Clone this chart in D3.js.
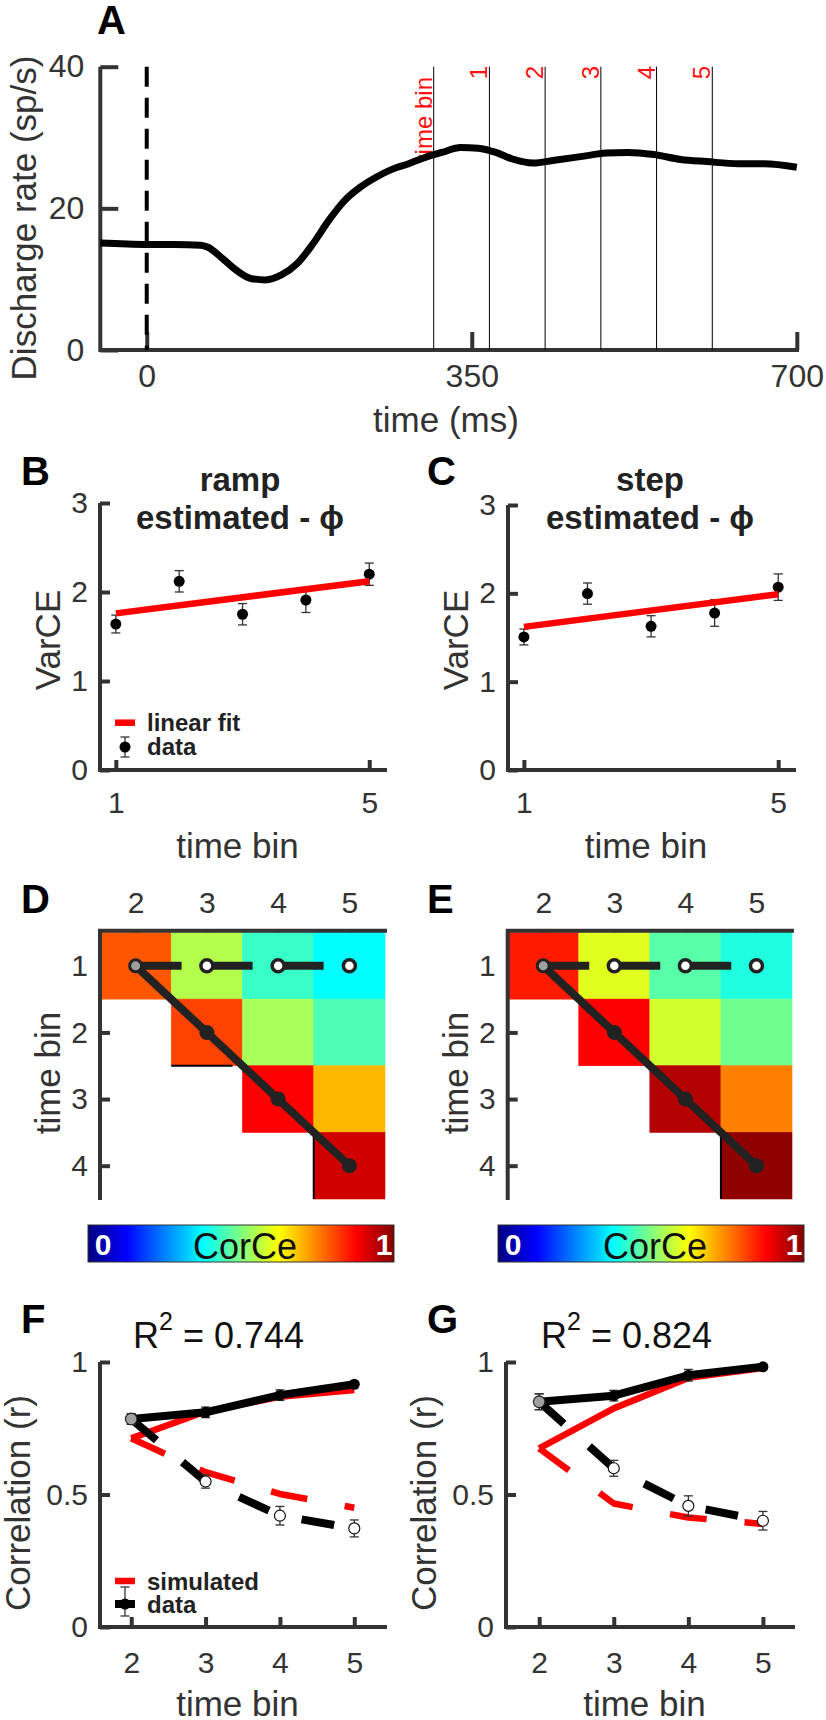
<!DOCTYPE html>
<html><head><meta charset="utf-8">
<script src="https://cdn.jsdelivr.net/npm/d3@7"></script>
<style>
body{margin:0;background:#fff;}
svg text{font-family:"Liberation Sans",Arial,Helvetica,sans-serif;}
</style></head><body>
<svg id="fig" width="826" height="1720" xmlns="http://www.w3.org/2000/svg"></svg>
<script>
// ---------- DATA ----------
// Panel A: discharge rate time course
const timeMs  = [-50, 0, 30, 58, 66, 80, 96, 112, 128, 145, 162, 179, 196, 213, 230, 247, 264, 282, 300, 318, 338, 357, 376, 393, 416, 439, 467, 495, 518, 546, 575, 603, 637, 665, 700];
const rateSpS = [15.1, 14.9, 14.9, 14.8, 14.5, 13.1, 11.3, 10.1, 9.9, 10.6, 12.2, 15.0, 18.3, 21.1, 23.0, 24.4, 25.5, 26.3, 27.2, 27.9, 28.6, 28.5, 27.9, 27.0, 26.4, 26.8, 27.3, 27.8, 27.9, 27.6, 26.9, 26.6, 26.3, 26.3, 25.8];
const binEdgesMs = [309, 369, 429, 489, 549, 609];
const binLabels = ["time bin", "1", "2", "3", "4", "5"];
const rateTicks = [0, 20, 40];
const timeTicks = [0, 350, 700];

// Panels B, C: VarCE
const varBins = [1, 2, 3, 4, 5];
const varTicks = [0, 1, 2, 3];
const varBinTicks = [1, 5];
const rampVar = [1.64, 2.12, 1.75, 1.91, 2.20];
const rampVarErr = [0.10, 0.12, 0.12, 0.14, 0.125];
const rampFit = [1.76, 2.12];
const stepVar = [1.506, 1.997, 1.627, 1.777, 2.07];
const stepVarErr = [0.09, 0.12, 0.12, 0.15, 0.15];
const stepFit = [1.62, 1.99];
const fitBins = [1, 5];

// Panels D, E: CorCe matrices (rows = time bin 1..4, cols = time bin 2..5)
const corRows = [1, 2, 3, 4];
const corCols = [2, 3, 4, 5];
const rampCorr = [[0.79, 0.55, 0.43, 0.375], [null, 0.81, 0.54, 0.45], [null, null, 0.875, 0.695], [null, null, null, 0.92]];
const stepCorr = [[0.85, 0.595, 0.46, 0.405], [null, 0.875, 0.58, 0.485], [null, null, 0.95, 0.75], [null, null, null, 0.985]];

// Panels F, G: correlation vs time bin
const corBins = [2, 3, 4, 5];
const corTicks = [0, 0.5, 1];
const rampDataDiag = [0.785, 0.81, 0.875, 0.916];
const rampDataDiagErr = [0.02, 0.02, 0.02, 0.01];
const rampDataRow = [0.785, 0.549, 0.420, 0.372];
const rampDataRowErr = [0.02, 0.025, 0.035, 0.032];
const rampSimDiag = [0.712, 0.813, 0.869, 0.894];
const rampSimRow = [0.712, 0.584, 0.502, 0.45];
const stepDataDiag = [0.85, 0.873, 0.95, 0.982];
const stepDataDiagErr = [0.03, 0.02, 0.022, 0.01];
const stepDataRow = [0.85, 0.599, 0.457, 0.401];
const stepDataRowErr = [0.03, 0.03, 0.038, 0.035];
const stepSimDiag = [0.674, 0.825, 0.94, 0.977];
const stepSimRow = [0.674, 0.466, 0.413, 0.389];
const r2Values = ["0.744", "0.824"];

// ---------- HELPERS ----------
const FONT = '"Liberation Sans", Arial, Helvetica, sans-serif';
const AXC = '#333';
const svg = d3.select('#fig');

function jet(v) {
  const c = x => Math.max(0, Math.min(1, x));
  const r = c(Math.min(4 * v - 1.5, -4 * v + 4.5));
  const g = c(Math.min(4 * v - 0.5, -4 * v + 3.5));
  const b = c(Math.min(4 * v + 0.5, -4 * v + 2.5));
  return d3.rgb(r * 255, g * 255, b * 255).formatHex();
}
function txt(x, y, s, o = {}) {
  return svg.append('text').attr('x', x).attr('y', y).text(s)
    .attr('font-size', o.size || 30).attr('font-weight', o.bold ? 'bold' : 'normal')
    .attr('fill', o.fill || AXC).attr('text-anchor', o.anchor || 'start');
}
function rtxt(x, y, s, o = {}) {
  return svg.append('text').attr('transform', `translate(${x},${y}) rotate(-90)`).text(s)
    .attr('font-size', o.size || 35).attr('fill', o.fill || AXC).attr('text-anchor', o.anchor || 'middle');
}
function frame(pts) {
  svg.append('path').attr('d', d3.line()(pts)).attr('fill', 'none')
    .attr('stroke', AXC).attr('stroke-width', 4).attr('stroke-linejoin', 'miter');
}
function axis(gen, vals, size, tickLen, pad, fmt) {
  const g = svg.append('g')
    .call(gen.tickValues(vals).tickSize(-tickLen).tickSizeOuter(0).tickPadding(pad).tickFormat(fmt || (d => d)));
  g.attr('font-family', FONT).attr('font-size', size);
  g.select('.domain').remove();
  g.selectAll('.tick line').attr('stroke', AXC).attr('stroke-width', 4);
  g.selectAll('.tick text').attr('fill', AXC);
  return g;
}
function errbars(x, y, xs, vals, errs, cap) {
  xs.forEach((b, i) => {
    const X = x(b), y0 = y(vals[i] - errs[i]), y1 = y(vals[i] + errs[i]);
    svg.append('line').attr('x1', X).attr('x2', X).attr('y1', y0).attr('y2', y1).attr('stroke', AXC).attr('stroke-width', 1.3);
    [y0, y1].forEach(yy => svg.append('line').attr('x1', X - cap).attr('x2', X + cap).attr('y1', yy).attr('y2', yy).attr('stroke', AXC).attr('stroke-width', 1.3));
  });
}

// ---------- PANEL A ----------
const xA = d3.scaleLinear().domain([-50, 700]).range([100.3, 796.8]);
const yA = d3.scaleLinear().domain([0, 40]).range([350, 66.7]);
axis(d3.axisLeft(yA), rateTicks, 32, 18, 16).attr('transform', 'translate(100.3,0)');
axis(d3.axisBottom(xA), timeTicks, 32, 18, 14).attr('transform', 'translate(0,350)');
frame([[100.3, 66.7], [100.3, 350], [799, 350]]);
svg.append('line').attr('x1', xA(0)).attr('x2', xA(0)).attr('y1', yA(40)).attr('y2', yA(0))
  .attr('stroke', '#000').attr('stroke-width', 4).attr('stroke-dasharray', '20,11');
binEdgesMs.forEach((t, i) => {
  svg.append('line').attr('x1', xA(t)).attr('x2', xA(t)).attr('y1', yA(40)).attr('y2', yA(0))
    .attr('stroke', '#000').attr('stroke-width', 1);
  rtxt(xA(t) - 2, i === 0 ? 77 : 66, binLabels[i], { size: 24, fill: '#ff1010', anchor: 'end' });
});
svg.append('path').datum(timeMs.map((t, i) => [t, rateSpS[i]]))
  .attr('d', d3.line().x(d => xA(d[0])).y(d => yA(d[1])).curve(d3.curveMonotoneX))
  .attr('fill', 'none').attr('stroke', '#000').attr('stroke-width', 7).attr('stroke-linejoin', 'round');
txt(97, 34, 'A', { size: 40, bold: true, fill: '#000' });
rtxt(36, 218, 'Discharge rate (sp/s)');
txt(446, 432, 'time (ms)', { size: 35, anchor: 'middle' });

// ---------- PANELS B, C ----------
function varPanel(left, right, yTop, vals, errs, fit, title, letter, letterX, titleX) {
  const x = d3.scaleLinear().domain([0.75, 5.28]).range([left, right]);
  const y = d3.scaleLinear().domain([0, 3]).range([770, yTop]);
  axis(d3.axisLeft(y), varTicks, 30, 10, 12).attr('transform', `translate(${left},0)`);
  axis(d3.axisBottom(x), varBinTicks, 30, 10, 22).attr('transform', 'translate(0,770)');
  frame([[left, yTop], [left, 770], [right, 770]]);
  errbars(x, y, varBins, vals, errs, 4.5);
  varBins.forEach((b, i) => svg.append('circle').attr('cx', x(b)).attr('cy', y(vals[i])).attr('r', 5.5).attr('fill', '#000'));
  svg.append('line').attr('x1', x(fitBins[0])).attr('x2', x(fitBins[1])).attr('y1', y(fit[0])).attr('y2', y(fit[1]))
    .attr('stroke', '#ff0000').attr('stroke-width', 6.5);
  txt(titleX, 491, title, { size: 33, bold: true, fill: '#222', anchor: 'middle' });
  txt(titleX, 529, 'estimated - \u03D5', { size: 33, bold: true, fill: '#222', anchor: 'middle' });
  txt(letterX, 485, letter, { size: 40, bold: true, fill: '#000' });
  rtxt(left - 40, 640, 'VarCE');
  txt((left + right) / 2 - 6, 858, 'time bin', { size: 35, anchor: 'middle' });
}
varPanel(100, 387, 503, rampVar, rampVarErr, rampFit, 'ramp', 'B', 21, 240);
varPanel(508, 796, 505, stepVar, stepVarErr, stepFit, 'step', 'C', 427, 650);
// legend B
svg.append('line').attr('x1', 115).attr('x2', 135).attr('y1', 722.7).attr('y2', 722.7).attr('stroke', '#ff0000').attr('stroke-width', 6.5);
txt(147, 731, 'linear fit', { size: 24, bold: true, fill: '#222' });
svg.append('line').attr('x1', 125).attr('x2', 125).attr('y1', 737).attr('y2', 757).attr('stroke', AXC).attr('stroke-width', 1.3);
[737, 757].forEach(yy => svg.append('line').attr('x1', 120.5).attr('x2', 129.5).attr('y1', yy).attr('y2', yy).attr('stroke', AXC).attr('stroke-width', 1.3));
svg.append('circle').attr('cx', 125).attr('cy', 747).attr('r', 5.5).attr('fill', '#000');
txt(147, 755, 'data', { size: 24, bold: true, fill: '#222' });

// ---------- PANELS D, E ----------
function heatPanel(left, right, mat, letter, letterX) {
  const x = d3.scaleLinear().domain([1.5, 5.5]).range([left, right]);
  const y = d3.scaleLinear().domain([0.5, 4.5]).range([932.5, 1199]);
  axis(d3.axisTop(x), corCols, 30, 10, 17.7).attr('transform', 'translate(0,930.7)');
  axis(d3.axisLeft(y), corRows, 30, 10, 12).attr('transform', `translate(${left},0)`);
  corRows.forEach((r, i) => corCols.forEach((c, j) => {
    const v = mat[i][j];
    if (v === null) return;
    svg.append('rect').attr('x', x(c - 0.5)).attr('y', y(r - 0.5))
      .attr('width', x(c + 0.5) - x(c - 0.5)).attr('height', y(r + 0.5) - y(r - 0.5))
      .attr('fill', jet(v)).attr('stroke', jet(v)).attr('stroke-width', 0.6);
  }));
  frame([[right + 2, 930.7], [left, 930.7], [left, 1200]]);
  // cell edge artefacts
  svg.append('line').attr('x1', x(4.5)).attr('x2', x(4.5)).attr('y1', y(3.5)).attr('y2', y(4.5)).attr('stroke', '#000').attr('stroke-width', 2);
  if (letter === 'D') svg.append('line').attr('x1', x(2.5)).attr('x2', x(3.36)).attr('y1', y(2.5)).attr('y2', y(2.5)).attr('stroke', '#000').attr('stroke-width', 2);
  // overlay paths
  const row = [[2, 1], [5, 1]];
  const diag = corCols.map((c, i) => [c, corRows[i]]);
  const ln = d3.line().x(d => x(d[0])).y(d => y(d[1]));
  svg.append('path').attr('d', ln(row)).attr('stroke', '#222').attr('stroke-width', 8).attr('fill', 'none').attr('stroke-dasharray', '46,25');
  svg.append('path').attr('d', ln(diag)).attr('stroke', '#222').attr('stroke-width', 8).attr('fill', 'none').attr('stroke-linejoin', 'round');
  corCols.slice(1).forEach(c => svg.append('circle').attr('cx', x(c)).attr('cy', y(1)).attr('r', 6).attr('fill', '#fff').attr('stroke', '#222').attr('stroke-width', 3.5));
  diag.slice(1).forEach(d => svg.append('circle').attr('cx', x(d[0])).attr('cy', y(d[1])).attr('r', 7.5).attr('fill', '#222'));
  svg.append('circle').attr('cx', x(2)).attr('cy', y(1)).attr('r', 6).attr('fill', '#a0a0a0').attr('stroke', '#222').attr('stroke-width', 3);
  txt(letterX, 913, letter, { size: 40, bold: true, fill: '#000' });
  rtxt(left - 40, 1073, 'time bin');
}
heatPanel(100, 385, rampCorr, 'D', 21);
heatPanel(507.7, 792, stepCorr, 'E', 427);

// colorbars
const defs = svg.append('defs');
const grad = defs.append('linearGradient').attr('id', 'jetgrad');
d3.range(0, 1.0001, 0.0625).forEach(v => grad.append('stop').attr('offset', v).attr('stop-color', jet(v)));
[[88, 394], [498, 804]].forEach(([l, r]) => {
  svg.append('rect').attr('x', l).attr('y', 1225).attr('width', r - l).attr('height', 37)
    .attr('fill', 'url(#jetgrad)').attr('stroke', AXC).attr('stroke-width', 1);
  txt(l + 15, 1255, '0', { size: 30, bold: true, fill: '#fff', anchor: 'middle' });
  txt((l + r) / 2 + 4, 1259, 'CorCe', { size: 36, fill: '#111', anchor: 'middle' });
  txt(r - 10, 1255, '1', { size: 30, bold: true, fill: '#fff', anchor: 'middle' });
});

// ---------- PANELS F, G ----------
function corPanel(left, right, dom, dataDiag, dataDiagErr, dataRow, dataRowErr, simDiag, simRow, r2, letter, letterX, r2X) {
  const x = d3.scaleLinear().domain(dom).range([left, right]);
  const y = d3.scaleLinear().domain([0, 1]).range([1627, 1362]);
  axis(d3.axisLeft(y), corTicks, 30, 10, 12).attr('transform', `translate(${left},0)`);
  axis(d3.axisBottom(x), corBins, 30, 10, 25).attr('transform', 'translate(0,1627)');
  frame([[left, 1362], [left, 1627], [right, 1627]]);
  const ln = vals => d3.line().x((d, i) => x(corBins[i])).y(d => y(d))(vals);
  svg.append('path').attr('d', ln(simRow)).attr('fill', 'none').attr('stroke', '#ff0000').attr('stroke-width', 6.5).attr('stroke-dasharray', '37,38').attr('stroke-linejoin', 'round');
  svg.append('path').attr('d', ln(simDiag)).attr('fill', 'none').attr('stroke', '#ff0000').attr('stroke-width', 6.5).attr('stroke-linejoin', 'round');
  svg.append('path').attr('d', ln(dataRow)).attr('fill', 'none').attr('stroke', '#000').attr('stroke-width', 8).attr('stroke-dasharray', '33,34').attr('stroke-linejoin', 'round');
  svg.append('path').attr('d', ln(dataDiag)).attr('fill', 'none').attr('stroke', '#000').attr('stroke-width', 8).attr('stroke-linejoin', 'round');
  errbars(x, y, corBins, dataRow, dataRowErr, 4.5);
  errbars(x, y, corBins, dataDiag, dataDiagErr, 4.5);
  corBins.slice(1).forEach((b, i) => svg.append('circle').attr('cx', x(b)).attr('cy', y(dataRow[i + 1])).attr('r', 5.5).attr('fill', '#fff').attr('stroke', '#111').attr('stroke-width', 1.2));
  corBins.slice(1).forEach((b, i) => svg.append('circle').attr('cx', x(b)).attr('cy', y(dataDiag[i + 1])).attr('r', 5.5).attr('fill', '#000'));
  svg.append('circle').attr('cx', x(corBins[0])).attr('cy', y(dataDiag[0])).attr('r', 5.8).attr('fill', '#a0a0a0').attr('stroke', '#222').attr('stroke-width', 1.2);
  const t = txt(r2X, 1348, 'R', { size: 36, fill: '#111' });
  t.append('tspan').attr('dy', -18).attr('font-size', 25).text('2');
  t.append('tspan').attr('dy', 18).attr('font-size', 36).text(' = ' + r2);
  txt(letterX, 1333, letter, { size: 40, bold: true, fill: '#000' });
  rtxt(left - 70, 1503, 'Correlation (r)');
  txt((left + right) / 2 - 6, 1716, 'time bin', { size: 35, anchor: 'middle' });
}
corPanel(100, 387, [1.58, 5.44], rampDataDiag, rampDataDiagErr, rampDataRow, rampDataRowErr, rampSimDiag, rampSimRow, r2Values[0], 'F', 21, 133);
corPanel(506, 795, [1.555, 5.43], stepDataDiag, stepDataDiagErr, stepDataRow, stepDataRowErr, stepSimDiag, stepSimRow, r2Values[1], 'G', 427, 541);
// legend F
svg.append('line').attr('x1', 115).attr('x2', 135).attr('y1', 1581).attr('y2', 1581).attr('stroke', '#ff0000').attr('stroke-width', 6.5);
txt(147, 1590, 'simulated', { size: 24, bold: true, fill: '#222' });
svg.append('line').attr('x1', 115).attr('x2', 135).attr('y1', 1604).attr('y2', 1604).attr('stroke', '#000').attr('stroke-width', 8);
svg.append('line').attr('x1', 125).attr('x2', 125).attr('y1', 1587).attr('y2', 1616).attr('stroke', AXC).attr('stroke-width', 1.3);
[1587, 1616].forEach(yy => svg.append('line').attr('x1', 120.5).attr('x2', 129.5).attr('y1', yy).attr('y2', yy).attr('stroke', AXC).attr('stroke-width', 1.3));
svg.append('circle').attr('cx', 125).attr('cy', 1604).attr('r', 5.5).attr('fill', '#000');
txt(147, 1613, 'data', { size: 24, bold: true, fill: '#222' });
</script>
</body></html>
